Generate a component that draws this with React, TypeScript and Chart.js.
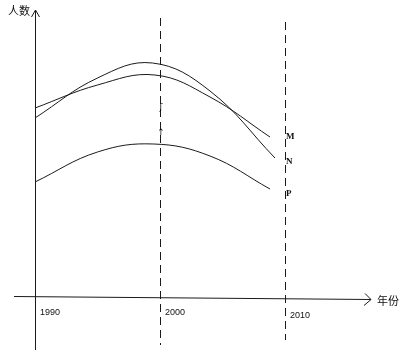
import React, { useEffect, useRef } from "react";
import { Chart, registerables } from "chart.js";

Chart.register(...registerables);

// Tick years (reference lines at the later two)
const tickYears = [1990, 2000, 2010];
const tickLabels = ["1990", "2000", "2010"];
const seriesNames = ["M", "N", "P"];
const axisTitleY = "人数";
const axisTitleX = "年份";

// Series (x = year, y = relative number of people)
const mYears = [1990, 1995.0, 1999.6, 2004.0, 2008.8];
const mValues = [189, 212, 222, 200, 160];
const nYears = [1990, 1995.0, 1999.4, 2004.0, 2009.2];
const nValues = [179, 219, 234, 206, 139];
const pYears = [1990, 1995.0, 1999.5, 2004.0, 2008.8];
const pValues = [115, 145, 153, 141, 108];

const toPoints = (xs: number[], ys: number[]) => xs.map((x, i) => ({ x, y: ys[i] }));

const LINE = "#1a1a1a";

const decorPlugin = {
  id: "decor",
  afterDraw(chart: any) {
    const ctx = chart.ctx as CanvasRenderingContext2D;
    const xs = chart.scales.x;
    const ys = chart.scales.y;
    const x0 = Math.round(xs.getPixelForValue(tickYears[0])) + 0.5;
    const y0 = Math.round(ys.getPixelForValue(0)) + 0.5;
    ctx.save();
    ctx.strokeStyle = LINE;
    ctx.lineWidth = 1;

    // y axis
    ctx.beginPath();
    ctx.moveTo(x0, 11);
    ctx.lineTo(x0, 350);
    ctx.stroke();
    // y arrow head
    ctx.beginPath();
    ctx.moveTo(x0 - 4, 17);
    ctx.lineTo(x0, 10);
    ctx.lineTo(x0 + 4, 17);
    ctx.stroke();

    // x axis
    ctx.beginPath();
    ctx.moveTo(14, y0 - 1);
    ctx.lineTo(371, y0 + 2);
    ctx.stroke();
    ctx.beginPath();
    ctx.moveTo(365, y0 - 4);
    ctx.lineTo(371, y0 + 2);
    ctx.lineTo(364, y0 + 8);
    ctx.stroke();

    // dashed reference lines
    ctx.setLineDash([8, 5]);
    const tops = [0, 18, 22];
    const bottoms = [0, 345, 340];
    for (let i = 1; i < tickYears.length; i++) {
      const px = Math.round(xs.getPixelForValue(tickYears[i])) + 0.5;
      ctx.beginPath();
      ctx.moveTo(px, tops[i]);
      ctx.lineTo(px, bottoms[i]);
      ctx.stroke();
    }
    ctx.setLineDash([]);

    // tick labels
    ctx.fillStyle = "#111";
    ctx.textBaseline = "middle";
    ctx.textAlign = "left";
    ctx.font = "9px 'Liberation Sans', Arial, sans-serif";
    const labelY = [313, 313, 316];
    tickYears.forEach((yr, i) => {
      const px = xs.getPixelForValue(yr);
      ctx.fillText(tickLabels[i], px + 5, labelY[i]);
    });

    // axis titles
    ctx.font = "11px 'Noto Sans CJK SC', sans-serif";
    ctx.fillText(axisTitleY, 8, 11);
    ctx.fillText(axisTitleX, 377, y0 + 3);

    // series labels next to line ends
    ctx.font = "bold 9px 'Liberation Serif', serif";
    const sets = chart.data.datasets;
    const offs = [0, 4, 5];
    sets.forEach((ds: any, i: number) => {
      const last = ds.data[ds.data.length - 1];
      const py = ys.getPixelForValue(last.y);
      ctx.fillText(seriesNames[i], 286, py + offs[i]);
    });

    // small marks on the 2000 line
    const p2000 = xs.getPixelForValue(tickYears[1]);
    ctx.font = "9px 'DejaVu Sans', sans-serif";
    ctx.textAlign = "center";
    ctx.fillText("ʃ", p2000 + 1, 108);
    ctx.fillText("↑", p2000 + 1, 133);

    ctx.restore();
  },
};

export default function App() {
  const ref = useRef<HTMLCanvasElement | null>(null);
  useEffect(() => {
    document.body.style.margin = "0";
    const canvas = ref.current;
    if (!canvas) return;
    const mk = (xs: number[], ys: number[], label: string) => ({
      label,
      data: toPoints(xs, ys),
      borderColor: LINE,
      borderWidth: 1,
      pointRadius: 0,
      fill: false,
      tension: 0.4,
    });
    const chart = new Chart(canvas, {
      type: "line",
      data: {
        datasets: [
          mk(mYears, mValues, seriesNames[0]),
          mk(nYears, nValues, seriesNames[1]),
          mk(pYears, pValues, seriesNames[2]),
        ],
      },
      options: {
        animation: false,
        responsive: true,
        maintainAspectRatio: false,
        layout: { padding: 0 },
        plugins: { legend: { display: false }, tooltip: { enabled: false } },
        scales: {
          x: { type: "linear", min: 1987.2, max: 2019.2, display: false },
          y: { type: "linear", min: -55, max: 297, display: false },
        },
      },
      plugins: [decorPlugin],
    });
    return () => chart.destroy();
  }, []);
  return (
    <div style={{ width: 400, height: 352, position: "relative", background: "#fff" }}>
      <canvas ref={ref} />
    </div>
  );
}
